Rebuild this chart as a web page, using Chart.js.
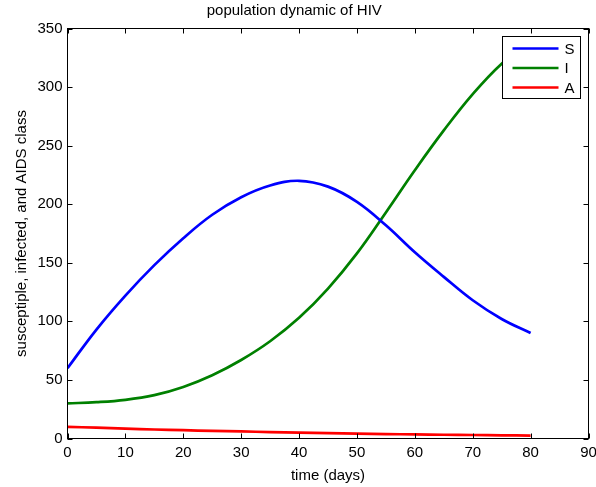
<!DOCTYPE html>
<html>
<head>
<meta charset="utf-8">
<script src="https://cdn.jsdelivr.net/npm/chart.js@4.4.0/dist/chart.umd.min.js"></script>
<style>
  html, body { margin: 0; padding: 0; background: #fff; }
  #c { display: block; }
</style>
</head>
<body>
<canvas id="c" width="596" height="487"></canvas>
<script>
// Time axis (days) and the three compartments of the model
const days        = [0, 5, 10, 15, 20, 25, 30, 35, 40, 45, 50, 55, 60, 65, 70, 75, 80];
const susceptible = [60, 93, 122, 148, 171, 191, 206, 216, 220, 215, 202, 182, 159, 138, 118, 102, 90];
const infected    = [30, 31, 33, 37, 44, 54, 67, 83, 103, 128, 158, 193, 229, 263, 294, 320, 339];
const aids        = [10, 9.2, 8.4, 7.7, 7.1, 6.5, 6.0, 5.5, 5.0, 4.6, 4.2, 3.8, 3.5, 3.2, 3.0, 2.7, 2.5];

const seriesLabels = ['S', 'I', 'A'];
const seriesColors = ['#0000ff', '#008000', '#ff0000'];

const xTicks = [0, 10, 20, 30, 40, 50, 60, 70, 80, 90];
const yTicks = [0, 50, 100, 150, 200, 250, 300, 350];

const FONT = '"Liberation Sans", Arial, Helvetica, sans-serif';

const toPoints = (ys) => days.map((d, i) => ({ x: d, y: ys[i] }));

// Boxed axes with inward tick marks on all four sides, plus a boxed legend
const framePlugin = {
  id: 'frame',
  afterDatasetsDraw(chart) {
    const { ctx, chartArea: a, scales: { x, y } } = chart;
    const tl = 5;
    ctx.save();
    ctx.strokeStyle = '#000';
    ctx.lineWidth = 1;
    ctx.beginPath();
    xTicks.forEach(v => {
      const px = Math.round(x.getPixelForValue(v)) + 0.5;
      ctx.moveTo(px, a.bottom); ctx.lineTo(px, a.bottom - tl);
      ctx.moveTo(px, a.top);    ctx.lineTo(px, a.top + tl);
    });
    yTicks.forEach(v => {
      const py = Math.round(y.getPixelForValue(v)) + 0.5;
      ctx.moveTo(a.left, py);  ctx.lineTo(a.left + tl, py);
      ctx.moveTo(a.right, py); ctx.lineTo(a.right - tl, py);
    });
    ctx.stroke();
    ctx.strokeRect(a.left, a.top, a.right - a.left, a.bottom - a.top);

    // legend box in the upper right corner
    const lx = 502.5, ly = 36.5, lw = 78, lh = 62;
    ctx.fillStyle = '#fff';
    ctx.fillRect(lx, ly, lw, lh);
    ctx.strokeRect(lx, ly, lw, lh);
    ctx.font = '15px ' + FONT;
    ctx.textBaseline = 'middle';
    ctx.textAlign = 'left';
    chart.data.datasets.forEach((ds, i) => {
      const ry = ly + 12 + i * 19.5;
      ctx.strokeStyle = ds.borderColor;
      ctx.lineWidth = ds.borderWidth;
      ctx.beginPath();
      ctx.moveTo(lx + 10, ry);
      ctx.lineTo(lx + 56, ry);
      ctx.stroke();
      ctx.fillStyle = '#000';
      ctx.fillText(ds.label, lx + 62, ry + 1);
    });
    ctx.restore();
  }
};

const datasets = [susceptible, infected, aids].map((vals, i) => ({
  label: seriesLabels[i],
  data: toPoints(vals),
  borderColor: seriesColors[i],
  backgroundColor: seriesColors[i],
  borderWidth: 2.7,
  pointRadius: 0,
  fill: false,
  tension: 0.4
}));

new Chart(document.getElementById('c'), {
  type: 'line',
  data: { datasets },
  plugins: [framePlugin],
  options: {
    responsive: false,
    animation: false,
    devicePixelRatio: 1,
    layout: { padding: { left: 0, right: 7.5, top: 0, bottom: 0 } },
    plugins: {
      legend: { display: false },
      tooltip: { enabled: false },
      title: {
        display: true,
        text: 'population dynamic of HIV',
        color: '#000',
        font: { family: FONT, size: 15, weight: 'normal' },
        padding: { top: 2, bottom: 8.5 }
      }
    },
    scales: {
      x: {
        type: 'linear',
        min: 0, max: 90,
        afterBuildTicks(s) { s.ticks = xTicks.map(v => ({ value: v })); },
        afterFit(s) { s.height = 48.5; s.paddingLeft = 0; s.paddingRight = 0; },
        grid: { display: false, drawTicks: false },
        border: { display: false },
        ticks: { color: '#000', font: { family: FONT, size: 15 }, padding: 5, maxRotation: 0, autoSkip: false },
        title: {
          display: true, text: 'time (days)', color: '#000',
          font: { family: FONT, size: 15 }, padding: { top: 0, bottom: 2 }
        }
      },
      y: {
        min: 0, max: 350,
        afterBuildTicks(s) { s.ticks = yTicks.map(v => ({ value: v })); },
        afterFit(s) { s.width = 67.5; s.paddingTop = 0; s.paddingBottom = 0; },
        grid: { display: false, drawTicks: false },
        border: { display: false },
        ticks: { color: '#000', font: { family: FONT, size: 15 }, padding: 5 },
        title: {
          display: true, text: 'susceptiple, infected, and AIDS class', color: '#000',
          font: { family: FONT, size: 15 }, padding: { top: 13, bottom: 0 }
        }
      }
    }
  }
});
</script>
</body>
</html>
